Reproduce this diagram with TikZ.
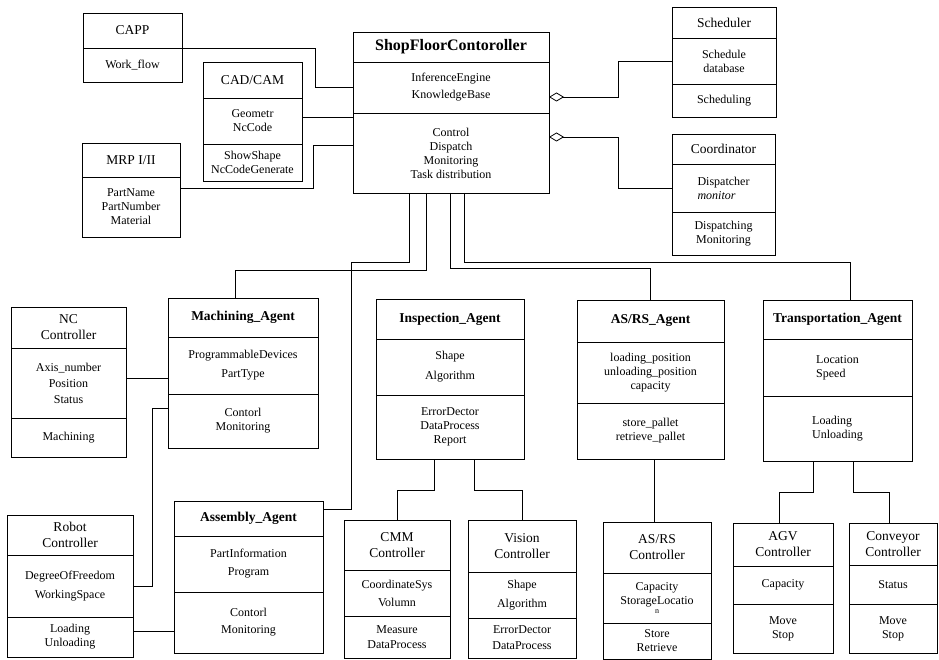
\documentclass[tikz,border=0pt]{standalone}
\usepackage{fontspec}
\setmainfont{Liberation Serif}
\usetikzlibrary{arrows.meta,positioning}

\begin{document}
\begin{tikzpicture}[x=1pt, y=-1pt,
    every node/.style={
        rectangle,
        draw,
        line width=0.8pt,
        outer sep=0pt,
        inner sep=1pt,
        align=center,
        font=\fontsize{12}{14}\selectfont
    },
    clstitle/.style={font=\fontsize{13.5}{16}\selectfont, anchor=north},
    agenttitle/.style={font=\bfseries\fontsize{13.5}{16}\selectfont, anchor=north},
    wd/.style={minimum width=#1pt},
    ht/.style={minimum height=#1pt},
    link/.style={line width=0.8pt},
    aggregate/.style={line width=0.8pt, {Diamond[open, length=15pt, width=9pt]}-}
]
    \useasboundingbox (0,0) rectangle (939,660);

    % planning side
    \node (capp) [clstitle, wd=99, ht=35] at (132.5,13) {CAPP};
    \node (capp_attr) [wd=99, ht=34, below=0pt of capp] {Work\_flow};

    \node (cadcam) [clstitle, wd=99, ht=36] at (252.5,62) {CAD/CAM};
    \node (cadcam_attr) [wd=99, ht=46, below=0pt of cadcam] {Geometr\\NcCode};
    \node (cadcam_op) [wd=99, ht=37, below=0pt of cadcam_attr] {ShowShape\\NcCodeGenerate};

    \node (mrp) [clstitle, wd=98, ht=34] at (131,143) {MRP I/II};
    \node (mrp_attr) [wd=98, ht=60, below=0pt of mrp] {PartName\\PartNumber\\Material};



    % shop floor controller
    \node (sfc) [clstitle, font=\bfseries\fontsize{16}{18}\selectfont, wd=196, ht=30] at (451,32) {ShopFloorContoroller};
    \node (sfc_attr) [wd=196, ht=51, below=0pt of sfc] {InferenceEngine\\[3pt]KnowledgeBase};
    \node (sfc_op) [wd=196, ht=80, below=0pt of sfc_attr] {Control\\Dispatch\\Monitoring\\Task distribution};

    \node (sched) [clstitle, wd=104, ht=31] at (724,7) {Scheduler};
    \node (sched_attr) [wd=104, ht=46, below=0pt of sched] {Schedule\\database};
    \node (sched_op) [wd=104, ht=33, below=0pt of sched_attr] {Scheduling};

    \node (coord) [clstitle, wd=103, ht=30] at (723.5,134) {Coordinator};
    \node (coord_attr) [wd=103, ht=48, align=left, below=0pt of coord] {Dispatcher\\\textit{monitor}};
    \node (coord_op) [wd=103, ht=43, below=0pt of coord_attr] {Dispatching\\Monitoring};



    % agents
    \node (mach) [agenttitle, wd=150, ht=39] at (243,298) {Machining\_Agent};
    \node (mach_attr) [wd=150, ht=57, below=0pt of mach] {ProgrammableDevices\\[5pt]PartType};
    \node (mach_op) [wd=150, ht=54, below=0pt of mach_attr] {Contorl\\Monitoring};

    \node (asm) [agenttitle, wd=149, ht=35] at (248.5,501) {Assembly\_Agent};
    \node (asm_attr) [wd=149, ht=56, below=0pt of asm] {PartInformation\\[4pt]Program};
    \node (asm_op) [wd=149, ht=61, below=0pt of asm_attr] {Contorl\\[3pt]Monitoring};

    \node (insp) [agenttitle, wd=148, ht=40] at (450,299) {Inspection\_Agent};
    \node (insp_attr) [wd=148, ht=56, below=0pt of insp] {Shape\\[6pt]Algorithm};
    \node (insp_op) [wd=148, ht=64, below=0pt of insp_attr] {ErrorDector\\DataProcess\\Report};

    \node (asrs) [agenttitle, wd=147, ht=42] at (650.5,300) {AS/RS\_Agent};
    \node (asrs_attr) [wd=147, ht=61, below=0pt of asrs] {loading\_position\\unloading\_position\\capacity};
    \node (asrs_op) [wd=147, ht=56, below=0pt of asrs_attr] {store\_pallet\\retrieve\_pallet};

    \node (trans) [agenttitle, wd=149, ht=39] at (837.5,300) {Transportation\_Agent};
    \node (trans_attr) [wd=149, ht=57, align=left, below=0pt of trans] {Location\\Speed};
    \node (trans_op) [wd=149, ht=65, align=left, below=0pt of trans_attr] {Loading\\Unloading};



    % controllers
    \node (nc) [clstitle, wd=115, ht=41] at (68.5,307) {NC\\Controller};
    \node (nc_attr) [wd=115, ht=70, below=0pt of nc] {Axis\_number\\[2pt]Position\\[2pt]Status};
    \node (nc_op) [wd=115, ht=39, below=0pt of nc_attr] {Machining};

    \node (robot) [clstitle, wd=126, ht=40] at (70,515) {Robot\\Controller};
    \node (robot_attr) [wd=126, ht=62, below=0pt of robot] {DegreeOfFreedom\\[5pt]WorkingSpace};
    \node (robot_op) [wd=126, ht=40, below=0pt of robot_attr] {Loading\\Unloading};

    \node (cmm) [clstitle, wd=106, ht=50] at (397,520) {CMM\\Controller};
    \node (cmm_attr) [wd=106, ht=46, below=0pt of cmm] {CoordinateSys\\[4pt]Volumn};
    \node (cmm_op) [wd=106, ht=42, below=0pt of cmm_attr] {Measure\\[1pt]DataProcess};

    \node (vision) [clstitle, wd=108, ht=52] at (522,520) {Vision\\Controller};
    \node (vision_attr) [wd=108, ht=46, below=0pt of vision] {Shape\\[5pt]Algorithm};
    \node (vision_op) [wd=108, ht=40, below=0pt of vision_attr] {ErrorDector\\[2pt]DataProcess};

    \node (asrsc) [clstitle, wd=108, ht=51] at (657,522) {AS/RS\\Controller};
    \node (asrsc_attr) [wd=108, ht=50, below=0pt of asrsc] {Capacity\\StorageLocatio\\[-5pt]{\fontsize{8}{8}\selectfont n}};
    \node (asrsc_op) [wd=108, ht=36, below=0pt of asrsc_attr] {Store\\Retrieve};

    \node (agv) [clstitle, wd=100, ht=43] at (783,523) {AGV\\Controller};
    \node (agv_attr) [wd=100, ht=38, below=0pt of agv] {Capacity};
    \node (agv_op) [wd=100, ht=49, below=0pt of agv_attr] {Move\\Stop};

    \node (conv) [clstitle, wd=88, ht=42] at (893,523) {Conveyor\\Controller};
    \node (conv_attr) [wd=88, ht=39, below=0pt of conv] {Status};
    \node (conv_op) [wd=88, ht=49, below=0pt of conv_attr] {Move\\Stop};



    \draw[link] (capp_attr.north east) -- ++(133,0) |- (sfc_attr.west);
    \draw[link] ([yshift=4pt]cadcam_attr.east) -- ([yshift=4pt]cadcam_attr.east -| sfc_op.west);
    \draw[link] ([yshift=-11pt]mrp_attr.north east) -- ++(133,0) |- ([yshift=-32pt]sfc_op.north west);
    \draw[aggregate] ([yshift=16pt]sfc_attr.south east) -- ++(69,0) |- (sched_attr.west);
    \draw[aggregate] ([yshift=-24pt]sfc_op.north east) -- ++(69,0) |- (coord_attr.west);

    \draw[link] ([xshift=-42pt]sfc_op.south) -- ++(0,69) -- ++(-58,0) |- ([yshift=9pt]asm.east);
    \draw[link] ([xshift=-25pt]sfc_op.south) -- ++(0,77) -| ([xshift=-8pt]mach.north);
    \draw[link] ([xshift=-1pt]sfc_op.south) -- ++(0,75) -| (asrs.north);
    \draw[link] ([xshift=13pt]sfc_op.south) -- ++(0,69) -| ([xshift=13pt]trans.north);

    \draw[link] ([yshift=5pt]nc_attr.east) -- ([yshift=5pt]nc_attr.east -| mach_attr.west);
    \draw[link] ([yshift=13pt]mach_op.west) -- ++(-16,0) |- (robot_attr.east);
    \draw[link] ([yshift=6pt]robot_op.east) -- ([yshift=6pt]robot_op.east -| asm_op.west);

    \draw[link] ([xshift=-16pt]insp_op.south) -- ++(0,31) -| (cmm.north);
    \draw[link] ([xshift=24pt]insp_op.south) -- ++(0,31) -| (vision.north);
    \draw[link] ([xshift=4pt]asrs_op.south) -- ([xshift=4pt]asrs_op.south |- asrsc.north);
    \draw[link] ([xshift=-24pt]trans_op.south) -- ++(0,31) -| ([xshift=-4pt]agv.north);
    \draw[link] ([xshift=16pt]trans_op.south) -- ++(0,31) -| ([xshift=-4pt]conv.north);


\end{tikzpicture}
\end{document}
